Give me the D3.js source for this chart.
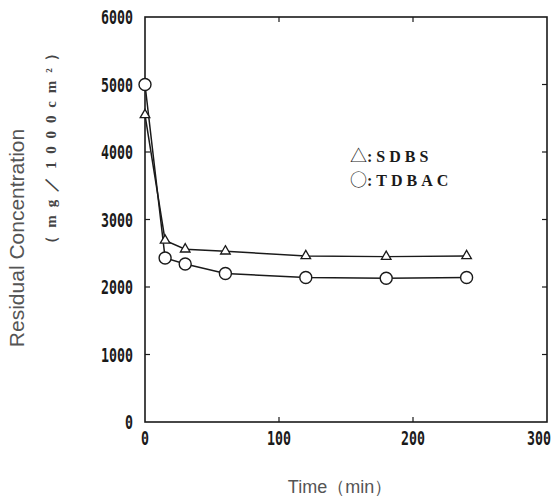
<!DOCTYPE html>
<html>
<head>
<meta charset="utf-8">
<script src="https://cdn.jsdelivr.net/npm/d3@7"></script>
<style>
  html, body { margin: 0; padding: 0; background: #fff; }
  svg { display: block; }
</style>
</head>
<body>
<svg id="chart" width="556" height="497"></svg>
<script>
// Residual concentration of surfactant over time
const timeSDBS = [0, 15, 30, 60, 120, 180, 240];
const concSDBS = [4550, 2690, 2560, 2530, 2460, 2450, 2460];
const timeTDBAC = [0, 15, 30, 60, 120, 180, 240];
const concTDBAC = [5000, 2430, 2340, 2200, 2140, 2130, 2140];
const xTicks = [0, 100, 200, 300];
const yTicks = [0, 1000, 2000, 3000, 4000, 5000, 6000];
const legendSymbols = ["△", "○"];
const legendLabels = [":SDBS", ":TDBAC"];

const svg = d3.select("#chart");
const plotL = 145, plotR = 547, plotT = 17, plotB = 422;

const x = d3.scaleLinear().domain([0, 300]).range([plotL, plotR]);
const y = d3.scaleLinear().domain([0, 6000]).range([plotB, plotT]);

const ink = "#1a1a1a";
const tickFont = "'DejaVu Sans Mono', monospace";
const squeeze = 0.7; // condensed look for the tick digits

// frame
svg.append("rect")
  .attr("x", plotL).attr("y", plotT)
  .attr("width", plotR - plotL).attr("height", plotB - plotT)
  .attr("fill", "none").attr("stroke", ink).attr("stroke-width", 1.6);

// inward ticks on all four sides
const tickLen = 5;
const g = svg.append("g").attr("stroke", ink).attr("stroke-width", 1.2);
yTicks.slice(1, -1).forEach(v => {
  g.append("line").attr("x1", plotL).attr("x2", plotL + tickLen).attr("y1", y(v)).attr("y2", y(v));
  g.append("line").attr("x1", plotR).attr("x2", plotR - tickLen).attr("y1", y(v)).attr("y2", y(v));
});
xTicks.slice(1, -1).forEach(v => {
  g.append("line").attr("x1", x(v)).attr("x2", x(v)).attr("y1", plotB).attr("y2", plotB - tickLen);
  g.append("line").attr("x1", x(v)).attr("x2", x(v)).attr("y1", plotT).attr("y2", plotT + tickLen);
});

// y tick labels
svg.append("g").selectAll("text").data(yTicks).join("text")
  .attr("transform", d => `translate(133,${y(d) + 7}) scale(${squeeze},1)`)
  .attr("text-anchor", "end")
  .attr("font-family", tickFont).attr("font-weight", "bold")
  .attr("font-size", 19).attr("fill", ink)
  .text(d => d);

// x tick labels (last one pulled in so it stays on the page)
svg.append("g").selectAll("text").data(xTicks).join("text")
  .attr("transform", (d, i) =>
    `translate(${x(d) - (i === xTicks.length - 1 ? 8 : 0)},445) scale(${squeeze},1)`)
  .attr("text-anchor", "middle")
  .attr("font-family", tickFont).attr("font-weight", "bold")
  .attr("font-size", 19).attr("fill", ink)
  .text(d => d);

// axis titles
svg.append("text")
  .attr("x", 340).attr("y", 493)
  .attr("text-anchor", "middle")
  .attr("font-family", "'Liberation Sans', Arial, sans-serif")
  .attr("font-size", 18).attr("fill", "#555")
  .text("Time（min）");

svg.append("text")
  .attr("transform", "translate(24,238) rotate(-90)")
  .attr("text-anchor", "middle")
  .attr("font-family", "'Liberation Sans', Arial, sans-serif")
  .attr("font-size", 21).attr("fill", "#555")
  .text("Residual Concentration");

svg.append("text")
  .attr("transform", "translate(56,148) rotate(-90)")
  .attr("text-anchor", "middle")
  .attr("font-family", "'Liberation Serif', serif")
  .attr("font-weight", "bold")
  .attr("font-size", 15).attr("fill", "#444")
  .attr("textLength", 205).attr("lengthAdjust", "spacing")
  .text("（mg／1000cm²）");

// series lines
const line = d3.line().x(d => x(d[0])).y(d => y(d[1]));
const sdbs = d3.zip(timeSDBS, concSDBS);
const tdbac = d3.zip(timeTDBAC, concTDBAC);

[sdbs, tdbac].forEach(pts => {
  svg.append("path").datum(pts)
    .attr("d", line)
    .attr("fill", "none").attr("stroke", ink).attr("stroke-width", 1.5);
});

// triangle markers
const tri = d3.symbol().type(d3.symbolTriangle).size(40);
svg.append("g").selectAll("path").data(sdbs).join("path")
  .attr("transform", d => `translate(${x(d[0])},${y(d[1])})`)
  .attr("d", tri)
  .attr("fill", "#fff").attr("stroke", ink).attr("stroke-width", 1.3);

// circle markers
svg.append("g").selectAll("circle").data(tdbac).join("circle")
  .attr("cx", d => x(d[0])).attr("cy", d => y(d[1])).attr("r", 6)
  .attr("fill", "#fff").attr("stroke", ink).attr("stroke-width", 1.4);

// legend
const legend = svg.append("g").selectAll("text").data(legendLabels).join("text")
  .attr("x", 350).attr("y", (d, i) => 162 + i * 24)
  .attr("fill", ink);
legend.append("tspan")
  .attr("font-family", "'Noto Sans CJK JP', 'DejaVu Sans', sans-serif")
  .attr("font-size", 17)
  .text((d, i) => legendSymbols[i]);
legend.append("tspan")
  .attr("font-family", "'Liberation Serif', serif")
  .attr("font-weight", "bold")
  .attr("font-size", 16)
  .attr("letter-spacing", 4)
  .text(d => d);
</script>
</body>
</html>
